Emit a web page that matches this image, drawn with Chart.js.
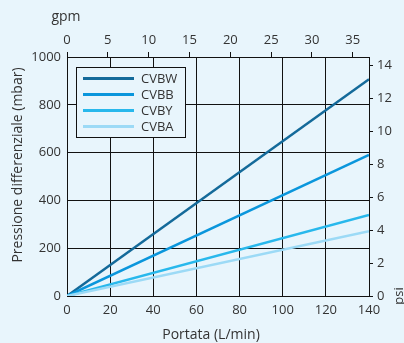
<!DOCTYPE html>
<html>
<head>
<meta charset="utf-8">
<script src="https://cdn.jsdelivr.net/npm/chart.js@4.4.1/dist/chart.umd.min.js"></script>
<style>
html,body{margin:0;padding:0;background:#e8f5fc;}
canvas{display:block;}
</style>
</head>
<body>
<canvas id="c" width="404" height="343"></canvas>
<script>
// ---- data ----
const flow = [0, 140];                 // Portata (L/min)
const cvbw = [0, 907];                 // mbar
const cvbb = [0, 590];
const cvby = [0, 339];
const cvba = [0, 271];
const seriesNames = ['CVBW', 'CVBB', 'CVBY', 'CVBA'];
const seriesColors = ['#146a9a', '#0a96dc', '#28b8ec', '#9cdaf6'];
const xTicks = [0, 20, 40, 60, 80, 100, 120, 140];
const yTicks = [0, 200, 400, 600, 800, 1000];
const gpmTicks = [0, 5, 10, 15, 20, 25, 30, 35];
const psiTicks = [0, 2, 4, 6, 8, 10, 12, 14];
const LPM_PER_GPM = 3.78541;
const PSI_PER_MBAR = 0.0145038;

const FONT = 'Open Sans';
const TXT = '#333333';
const GRID = '#111111';
const BG = '#e8f5fc';

const seriesValues = [cvbw, cvbb, cvby, cvba];
const datasets = seriesValues.map((vals, k) => ({
  label: seriesNames[k],
  data: flow.map((x, i) => ({x: x, y: vals[i]})),
  borderColor: seriesColors[k],
  backgroundColor: seriesColors[k],
  borderWidth: 2.5,
  pointRadius: 0,
  showLine: true,
  fill: false,
  order: seriesValues.length - k
}));

function setTicks(arr) {
  return function (s) { s.ticks = arr.map(v => ({value: v})); };
}
const plain = v => String(v);
const tickFont = {family: FONT, size: 13};

const bgPlugin = {
  id: 'bg',
  beforeDraw(chart) {
    const ctx = chart.ctx;
    ctx.save();
    ctx.fillStyle = BG;
    ctx.fillRect(0, 0, chart.width, chart.height);
    ctx.restore();
  }
};

const legendPlugin = {
  id: 'boxLegend',
  afterDatasetsDraw(chart) {
    const ctx = chart.ctx;
    ctx.save();
    ctx.fillStyle = BG;
    ctx.fillRect(76, 67, 110, 71);
    ctx.strokeStyle = '#111';
    ctx.lineWidth = 1;
    ctx.strokeRect(76.5, 67.5, 109, 70);
    ctx.font = '13px "' + FONT + '"';
    ctx.textBaseline = 'middle';
    ctx.textAlign = 'left';
    chart.data.datasets.forEach((ds, i) => {
      const y = 78.5 + i * 16;
      ctx.strokeStyle = ds.borderColor;
      ctx.lineWidth = 3;
      ctx.beginPath();
      ctx.moveTo(83, y);
      ctx.lineTo(134, y);
      ctx.stroke();
      ctx.fillStyle = TXT;
      ctx.fillText(ds.label, 141, y + 0.5);
    });
    ctx.restore();
  }
};

const titlePlugin = {
  id: 'titles',
  afterDraw(chart) {
    const ctx = chart.ctx;
    ctx.save();
    ctx.fillStyle = TXT;
    ctx.font = '14px "' + FONT + '"';
    ctx.textAlign = 'center';
    ctx.textBaseline = 'middle';
    ctx.fillText('gpm', 66, 17);
    ctx.fillText('Portata (L/min)', 211, 335);
    ctx.save();
    ctx.translate(18, 165);
    ctx.rotate(-Math.PI / 2);
    ctx.fillText('Pressione differenziale (mbar)', 0, 0);
    ctx.restore();
    ctx.save();
    ctx.translate(399, 296);
    ctx.rotate(-Math.PI / 2);
    ctx.font = '13px "' + FONT + '"';
    ctx.fillText('psi', 0, 0);
    ctx.restore();
    ctx.restore();
  }
};

new Chart(document.getElementById('c'), {
  type: 'scatter',
  data: {datasets: datasets},
  options: {
    responsive: false,
    animation: false,
    devicePixelRatio: 1,
    layout: {padding: 0},
    plugins: {legend: {display: false}, tooltip: {enabled: false}},
    scales: {
      x: {
        type: 'linear', position: 'bottom', min: 0, max: 140,
        afterBuildTicks: setTicks(xTicks),
        afterFit(s) { s.height = 47; },
        grid: {color: GRID, lineWidth: 1, drawTicks: false},
        border: {display: true, color: GRID, width: 1},
        ticks: {font: tickFont, color: TXT, padding: 6, maxRotation: 0, autoSkip: false, callback: plain}
      },
      y: {
        type: 'linear', position: 'left', min: 0, max: 1000,
        afterBuildTicks: setTicks(yTicks),
        afterFit(s) { s.width = 67; },
        grid: {color: GRID, lineWidth: 1, drawTicks: false},
        border: {display: true, color: GRID, width: 1},
        ticks: {font: tickFont, color: TXT, padding: 6, autoSkip: false, callback: plain}
      },
      x2: {
        type: 'linear', axis: 'x', position: 'top', min: 0, max: 140 / LPM_PER_GPM,
        afterBuildTicks: setTicks(gpmTicks),
        afterFit(s) { s.height = 57; },
        grid: {color: GRID, lineWidth: 1, drawOnChartArea: false, drawTicks: true, tickLength: 5},
        border: {display: true, color: GRID, width: 1},
        ticks: {font: tickFont, color: TXT, padding: 4, maxRotation: 0, autoSkip: false, callback: plain}
      },
      y2: {
        type: 'linear', axis: 'y', position: 'right', min: 0, max: 1000 * PSI_PER_MBAR,
        afterBuildTicks: setTicks(psiTicks),
        afterFit(s) { s.width = 35; },
        grid: {color: GRID, lineWidth: 1, drawOnChartArea: false, drawTicks: true, tickLength: 4},
        border: {display: true, color: GRID, width: 1},
        ticks: {font: tickFont, color: TXT, padding: 4, autoSkip: false, callback: plain}
      }
    }
  },
  plugins: [bgPlugin, legendPlugin, titlePlugin]
});
</script>
</body>
</html>
